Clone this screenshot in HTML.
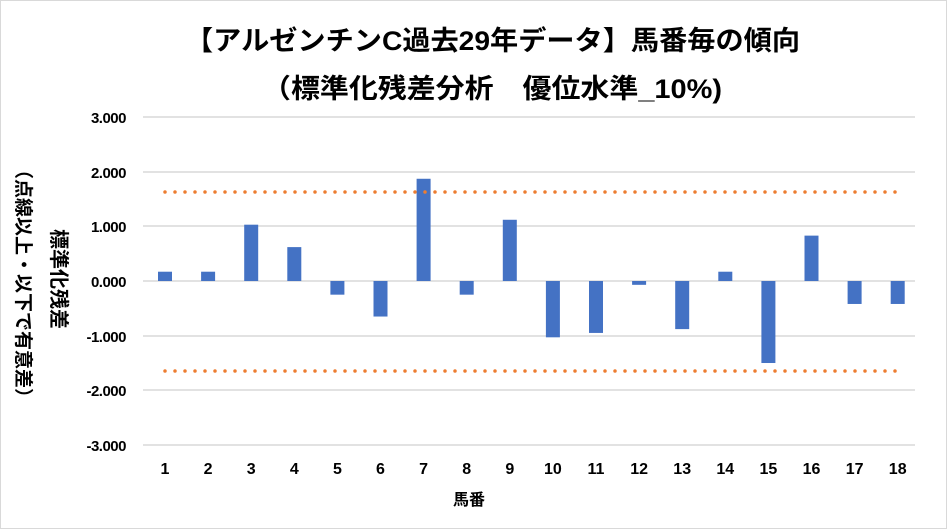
<!DOCTYPE html>
<html><head><meta charset="utf-8"><style>
body{margin:0;background:#fff;}
.wrap{position:relative;width:947px;height:529px;overflow:hidden;font-family:"Liberation Sans","Noto Sans CJK JP",sans-serif;}
.v{position:absolute;writing-mode:vertical-rl;text-orientation:sideways;font-weight:bold;color:#000;white-space:nowrap;line-height:1;}
</style></head><body><div class="wrap">
<svg width="947" height="529" style="position:absolute;left:0;top:0" font-family="Liberation Sans, Noto Sans CJK JP, sans-serif">
<rect x="0.5" y="0.5" width="946" height="528" fill="#fff" stroke="#d9d9d9"/>
<text x="185" y="50" font-size="27" font-weight="bold" textLength="615" lengthAdjust="spacingAndGlyphs">【アルゼンチンC過去29年データ】馬番毎の傾向</text>
<text x="262" y="98" font-size="27" font-weight="bold" textLength="460" lengthAdjust="spacingAndGlyphs">（標準化残差分析　優位水準_10%)</text>
<g stroke="#d9d9d9" stroke-width="1.5">
<line x1="143" x2="915" y1="117" y2="117"/><line x1="143" x2="915" y1="172" y2="172"/>
<line x1="143" x2="915" y1="226" y2="226"/><line x1="143" x2="915" y1="281" y2="281"/>
<line x1="143" x2="915" y1="336" y2="336"/><line x1="143" x2="915" y1="390" y2="390"/>
<line x1="143" x2="915" y1="445" y2="445"/></g>
<g font-size="15" font-weight="bold" text-anchor="end" letter-spacing="-0.5">
<text x="126" y="123">3.000</text><text x="126" y="178">2.000</text><text x="126" y="232">1.000</text>
<text x="126" y="287">0.000</text><text x="126" y="342">-1.000</text><text x="126" y="396">-2.000</text><text x="126" y="451">-3.000</text></g>
<g fill="#4472C4" id="bars"></g>
<g stroke="#ED7D31" stroke-width="3.5" stroke-linecap="round" stroke-dasharray="0 10">
<line x1="165" x2="898" y1="192" y2="192"/><line x1="165" x2="898" y1="371" y2="371"/></g>
<g font-size="16" font-weight="bold" text-anchor="middle" id="xl"></g>
<text x="469" y="505" text-anchor="middle" font-size="16" font-weight="bold">馬番</text>
</svg>
<div class="v" style="left:13px;top:160px;font-size:19px;">（点線以上・以下で有意差）</div>
<div class="v" style="left:48px;top:229px;font-size:20px;">標準化残差</div>
</div>
<script>
var v=[0.17,0.17,1.03,0.62,-0.25,-0.65,1.87,-0.25,1.12,-1.03,-0.95,-0.07,-0.88,0.17,-1.5,0.83,-0.42,-0.42];
var ns="http://www.w3.org/2000/svg",b=document.getElementById('bars'),x=document.getElementById('xl');
v.forEach(function(d,i){var c=165+i*43.1,r=document.createElementNS(ns,'rect');
var h=Math.abs(d)*54.67;r.setAttribute('x',c-7);r.setAttribute('width',14);
r.setAttribute('y',d>0?281-h:281);r.setAttribute('height',h);b.appendChild(r);
var t=document.createElementNS(ns,'text');t.setAttribute('x',c);t.setAttribute('y',474);t.textContent=i+1;x.appendChild(t);});
</script>
</body></html>
